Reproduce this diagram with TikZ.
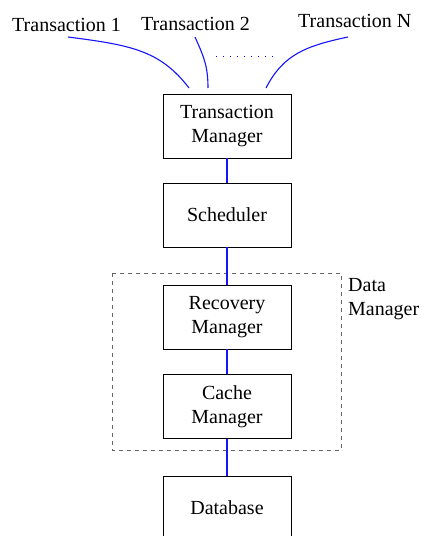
\documentclass[tikz,border=0pt]{standalone}
\usepackage{fontspec}
\setmainfont{Liberation Serif}
\begin{document}
\begin{tikzpicture}[x=1pt,y=-1pt,
  box/.style={draw=black,line width=0.9pt,minimum width=128pt,minimum height=64pt,align=center,inner sep=0pt,font=\fontsize{20}{24}\selectfont},
  lbl/.style={font=\fontsize{20}{24}\selectfont,inner sep=0pt},
  conn/.style={draw={rgb,255:red,20;green,20;blue,255},line width=1.4pt},
  grp/.style={draw=black!60,line width=0.9pt,dash pattern=on 4pt off 4pt}]
\useasboundingbox (0,0) rectangle (421,536);
% labels
\node[lbl,anchor=base west] (t1) at (12,31) {Transaction 1};
\node[lbl,anchor=base west] (t2) at (141,30) {Transaction 2};
\node[lbl,anchor=base west] (tn) at (298,27) {Transaction N};
% boxes
\node[box] (tm) at (227,126) {Transaction\\Manager};
\node[box] (sch) at (227,215) {Scheduler};
\node[box] (rec) at (227,317) {Recovery\\Manager};
\node[box] (cache) at (227,406.5) {Cache\\Manager};
\node[box] (db) at (227,508) {Database};
% data manager group
\draw[grp] (112,273) rectangle (341,450);
\node[lbl,anchor=base west] (dm1) at (348,291) {Data};
\node[lbl,anchor=base west] (dm2) at (348,315) {Manager};
% curve endpoints
\coordinate (s1) at (68,37);
\coordinate (s2) at (195,37);
\coordinate (sn) at (348,37);
\coordinate (e1) at (189,88);
\coordinate (e2) at (208,88);
\coordinate (en) at (266,88);
\coordinate (d1) at (216,56);
\coordinate (d2) at (274,56);
\draw[conn,line width=1.1pt] (s1) .. controls (130,45) and (160,50) .. (e1);
\draw[conn,line width=1.1pt] (s2) .. controls (203,55) and (208,65) .. (e2);
\draw[conn,line width=1.1pt] (sn) .. controls (305,46) and (283,55) .. (en);
\draw[blue,line width=1pt,dash pattern=on 1pt off 6pt] (d1) -- (d2);
% connectors
\draw[conn] (tm.south) -- (sch.north);
\draw[conn] (sch.south) -- (rec.north);
\draw[conn] (rec.south) -- (cache.north);
\draw[conn] (cache.south) -- (db.north);
\end{tikzpicture}
\end{document}
